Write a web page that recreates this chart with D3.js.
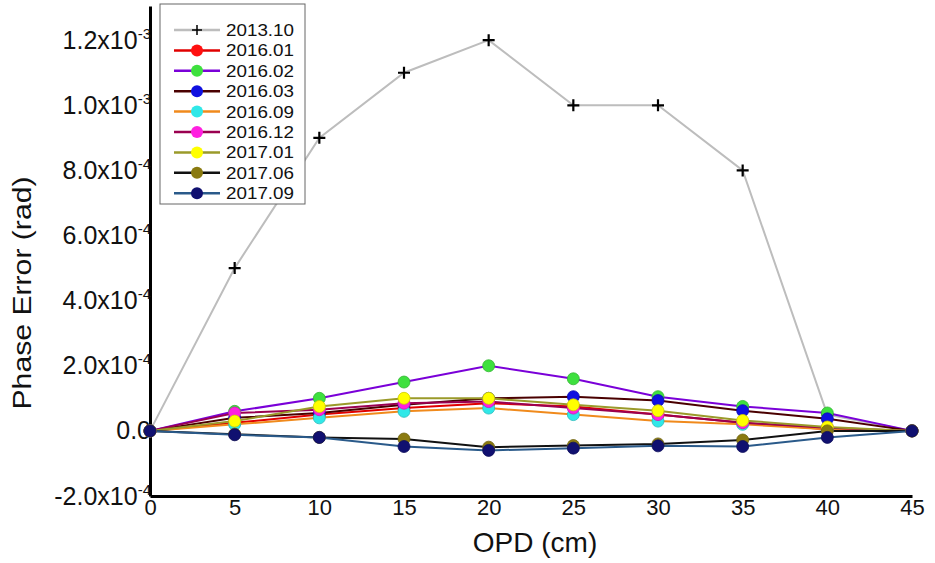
<!DOCTYPE html>
<html><head><meta charset="utf-8">
<script src="https://cdn.jsdelivr.net/npm/d3@7"></script>
<style>
body{margin:0;background:#fff;}
svg text{font-family:"Liberation Sans",Arial,sans-serif;}
</style></head>
<body><svg id="c" width="935" height="563"></svg>
<script>
const opd = [0,5,10,15,20,25,30,35,40,45];
const seriesNames = ["2013.10","2016.01","2016.02","2016.03","2016.09","2016.12","2017.01","2017.06","2017.09"];
// values in units of 1e-5 rad
const s201310 = [0,50,90,110,120,100,100,80,5,0];
const s201601 = [0,2.5,5,7,8.5,7.5,5,2.5,0.5,0];
const s201602 = [0,6,10,15,20,16,10.5,7.5,5.5,0];
const s201603 = [0,4,5.5,8,10,10.5,9.3,6.2,3.7,0];
const s201609 = [0,2,4,6,7,5,3,2,0.5,0];
const s201612 = [0,5.5,6.5,8.5,9,7,5,2.5,1,0];
const s201701 = [0,3,7.5,10,10,8,6.2,3.2,1.2,0];
const s201706 = [0,-1,-2,-2.5,-5,-4.5,-4,-2.8,0,0];
const s201709 = [0,-1.2,-2,-4.8,-6,-5.3,-4.6,-4.8,-2,0];
const seriesValues = [s201310,s201601,s201602,s201603,s201609,s201612,s201701,s201706,s201709];
const lineColors = ["#bdbdbd","#e00000","#7a00d8","#4a0000","#f08a1c","#9a0050","#9a9a2a","#111111","#2a5a8a"];
const dotColors  = [null,"#ff1010","#3ee03e","#1010e0","#30e8e8","#ff20e0","#ffff00","#8a7a10","#101070"];
const yTicks = [-2e-4,0,2e-4,4e-4,6e-4,8e-4,1e-3,1.2e-3];
const xTicks = [0,5,10,15,20,25,30,35,40,45];

const svg = d3.select("#c");
const L=150, R=912, T=6, B=496;
const x = d3.scaleLinear().domain([0,45]).range([L,R]);
const y = d3.scaleLinear().domain([-2e-4,1.305e-3]).range([B,T]);

// axes
const yAx = svg.append("g").attr("transform",`translate(${L},0)`)
  .call(d3.axisLeft(y).tickValues(yTicks).tickSize(0).tickPadding(0).tickFormat(()=>""));
yAx.select(".domain").attr("stroke","#000").attr("stroke-width",3);
yAx.selectAll(".tick text").each(function(d){
  const t=d3.select(this).attr("font-size",25).attr("fill","#111").attr("x",1);
  if(d===0){t.text("0.0");return;}
  const e=Math.floor(Math.log10(Math.abs(d))+1e-9);
  const m=d/Math.pow(10,e);
  t.append("tspan").text(m.toFixed(1)+"x10");
  t.append("tspan").attr("font-size",15).attr("dy",-10).text(String(e));
});
const xAx = svg.append("g").attr("transform",`translate(0,${B})`)
  .call(d3.axisBottom(x).tickValues(xTicks).tickSize(0).tickPadding(3));
xAx.select(".domain").attr("stroke","#000").attr("stroke-width",3);
xAx.selectAll(".tick text").attr("font-size",22).attr("fill","#111");

svg.append("text").attr("transform","translate(31,293) rotate(-90)")
  .attr("text-anchor","middle").attr("font-size",25).attr("fill","#111")
  .attr("textLength",233).attr("lengthAdjust","spacingAndGlyphs").text("Phase Error (rad)");
svg.append("text").attr("x",535).attr("y",552).attr("text-anchor","middle")
  .attr("font-size",28).attr("fill","#111").text("OPD (cm)");

const line = d3.line().x((d,i)=>x(opd[i])).y(d=>y(d*1e-5));
const plot = svg.append("g");
seriesValues.forEach((vals,k)=>{
  plot.append("path").datum(vals).attr("d",line).attr("fill","none")
    .attr("stroke",lineColors[k]).attr("stroke-width",2);
});
seriesValues.forEach((vals,k)=>{
  const g=plot.append("g");
  if(k===0){
    vals.forEach((v,i)=>{
      const cx=x(opd[i]), cy=y(v*1e-5);
      g.append("path").attr("d",`M${cx-6},${cy}H${cx+6}M${cx},${cy-6}V${cy+6}`)
        .attr("stroke","#000").attr("stroke-width",2.2);
    });
  } else {
    g.selectAll("circle").data(vals).join("circle")
      .attr("cx",(d,i)=>x(opd[i])).attr("cy",d=>y(d*1e-5)).attr("r",6)
      .attr("fill",dotColors[k]).attr("stroke",d3.color(dotColors[k]).darker(0.6)).attr("stroke-width",0.8);
  }
});

// legend
const lg = svg.append("g");
lg.append("rect").attr("x",160).attr("y",4).attr("width",145).attr("height",200)
  .attr("fill","#fff").attr("stroke","#666").attr("stroke-width",1);
seriesNames.forEach((n,k)=>{
  const yy=30+k*20.4;
  lg.append("line").attr("x1",174).attr("x2",220).attr("y1",yy).attr("y2",yy)
    .attr("stroke",lineColors[k]).attr("stroke-width",2.5);
  if(k===0){
    lg.append("path").attr("d",`M${197-5},${yy}H${197+5}M197,${yy-5}V${yy+5}`).attr("stroke","#000").attr("stroke-width",1.5);
  } else {
    lg.append("circle").attr("cx",197).attr("cy",yy).attr("r",6).attr("fill",dotColors[k]);
  }
  lg.append("text").attr("x",226).attr("y",yy+6).attr("font-size",17).attr("fill","#111")
    .attr("textLength",68).attr("lengthAdjust","spacingAndGlyphs").text(n);
});
</script></body></html>
